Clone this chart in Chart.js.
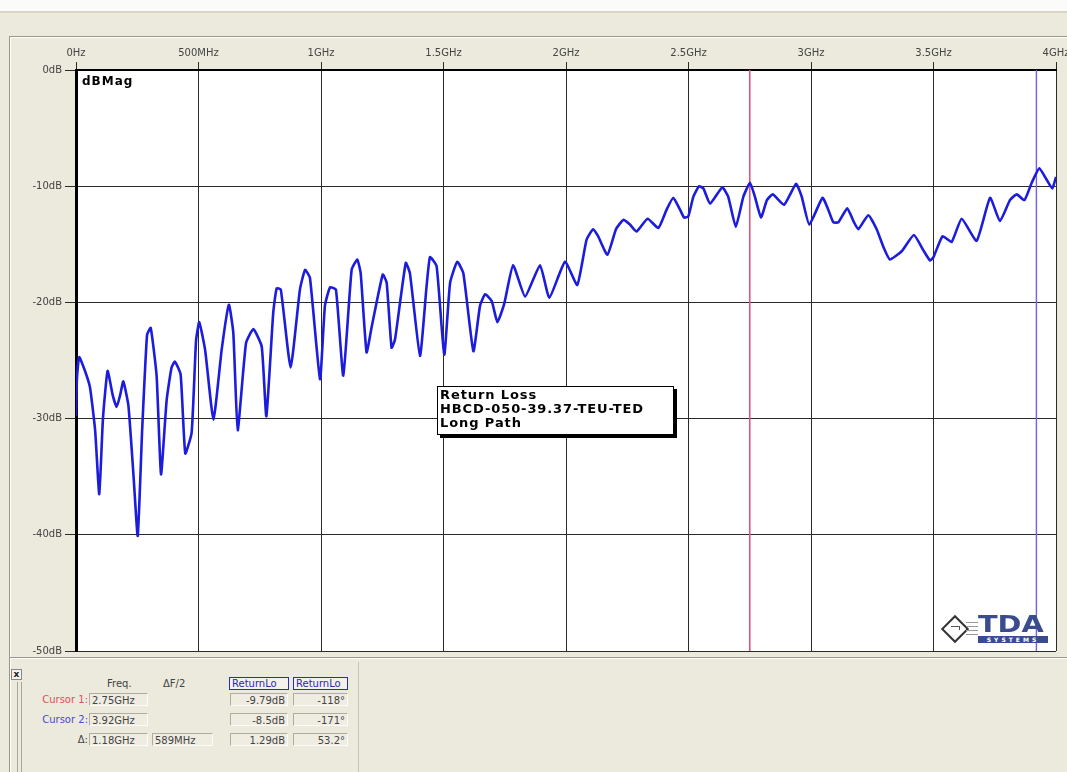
<!DOCTYPE html>
<html>
<head>
<meta charset="utf-8">
<script src="https://cdn.jsdelivr.net/npm/chart.js@4.4.1/dist/chart.umd.min.js"></script>
<style>
  body { margin: 0; width: 1067px; height: 772px; overflow: hidden; position: relative; background: #ece9dd; font-family: "DejaVu Sans", sans-serif; }
  .abs { position: absolute; }
  #chart { position: absolute; left: 0; top: 0; }
  .note { left: 437px; top: 386px; width: 233px; height: 46px; background: #fff; border: 1px solid #000; box-shadow: 3px 3px 0 #000;
          font: bold 13px "DejaVu Sans", sans-serif; letter-spacing: 0.9px; line-height: 14px; padding: 1px 0 0 2px; color: #000; }
  .lbl { font-size: 10px; color: #444; white-space: nowrap; }
  .box { height: 13px; background: #efece2; border: 1px solid; border-color: #b0ad9f #fcfbf7 #fcfbf7 #b0ad9f; font-size: 10px; color: #444; line-height: 13px; padding: 0 2px; box-sizing: border-box; white-space: nowrap; }
  .hdr { height: 13px; background: #f3f1ea; border: 1px solid #2b2bb8; font-size: 10px; color: #2b2bb0; line-height: 11px; padding: 0 2px; box-sizing: border-box; white-space: nowrap; }
  .r { text-align: right; }
</style>
</head>
<body>
<!-- window chrome behind the chart -->
<div class="abs" style="left:0;top:0;width:1067px;height:11px;background:#fbfbf9;"></div>
<div class="abs" style="left:0;top:11px;width:1067px;height:2px;background:#d8d5c8;"></div>
<div class="abs" style="left:9px;top:36px;width:1058px;height:1px;background:#9a978a;"></div>
<div class="abs" style="left:9px;top:37px;width:1058px;height:1px;background:#ffffff;"></div>
<div class="abs" style="left:9px;top:36px;width:1px;height:736px;background:#9a978a;"></div>
<div class="abs" style="left:10px;top:37px;width:1px;height:735px;background:#ffffff;"></div>
<div class="abs" style="left:10px;top:657px;width:1057px;height:1px;background:#9a978a;"></div>
<div class="abs" style="left:10px;top:658px;width:1057px;height:1px;background:#ffffff;"></div>
<div class="abs" style="left:358px;top:662px;width:1px;height:110px;background:#c7c4b6;"></div>

<canvas id="chart" width="1100" height="662"></canvas>

<div class="abs note">Return Loss<br>HBCD-050-39.37-TEU-TED<br>Long Path</div>

<!-- TDA logo -->
<div class="abs" style="left:945px;top:619px;width:16px;height:16px;transform:rotate(45deg);border:2px solid #333;background:#fff;"></div>
<div class="abs" style="left:951px;top:626px;width:8px;height:3px;border-top:1px solid #555;border-right:1px solid #555;"></div>
<div class="abs" style="left:966px;top:622px;width:12px;height:1px;background:#999;"></div>
<div class="abs" style="left:966px;top:626px;width:12px;height:1px;background:#999;"></div>
<div class="abs" style="left:966px;top:630px;width:12px;height:1px;background:#999;"></div>
<div class="abs" style="left:966px;top:634px;width:12px;height:1px;background:#999;"></div>
<div class="abs" style="left:978px;top:611px;font:bold 23px 'DejaVu Sans',sans-serif;color:#3b4c8e;transform:scaleX(1.25);transform-origin:left top;">TDA</div>
<div class="abs" style="left:978px;top:636px;width:70px;height:7px;background:#3b4c8e;color:#fff;font:bold 6px 'DejaVu Sans',sans-serif;letter-spacing:3px;line-height:7px;text-align:center;">SYSTEMS</div>

<!-- cursor readout panel -->
<div class="abs" style="left:11px;top:669px;width:9px;height:9px;border:1px solid #888;background:#f4f2ea;font:bold 9px 'DejaVu Sans';line-height:8px;text-align:center;color:#222;">x</div>
<div class="abs" style="left:17px;top:682px;width:1px;height:90px;background:#a9a697;"></div>
<div class="abs" style="left:21px;top:682px;width:1px;height:90px;background:#a9a697;"></div>

<div class="abs lbl" style="left:107px;top:678px;">Freq.</div>
<div class="abs lbl" style="left:163px;top:678px;">ΔF/2</div>
<div class="abs hdr" style="left:229px;top:677px;width:60px;">ReturnLo</div>
<div class="abs hdr" style="left:293px;top:677px;width:55px;">ReturnLo</div>

<div class="abs lbl r" style="left:28px;top:694px;width:60px;color:#e0505e;">Cursor 1:</div>
<div class="abs box" style="left:89px;top:693px;width:59px;">2.75GHz</div>
<div class="abs box r" style="left:230px;top:693px;width:58px;">-9.79dB</div>
<div class="abs box r" style="left:293px;top:693px;width:55px;">-118°</div>

<div class="abs lbl r" style="left:28px;top:714px;width:60px;color:#4a4ad0;">Cursor 2:</div>
<div class="abs box" style="left:89px;top:713px;width:59px;">3.92GHz</div>
<div class="abs box r" style="left:230px;top:713px;width:58px;">-8.5dB</div>
<div class="abs box r" style="left:293px;top:713px;width:55px;">-171°</div>

<div class="abs lbl r" style="left:28px;top:734px;width:60px;">Δ:</div>
<div class="abs box" style="left:89px;top:733px;width:59px;">1.18GHz</div>
<div class="abs box" style="left:152px;top:733px;width:61px;">589MHz</div>
<div class="abs box r" style="left:230px;top:733px;width:58px;">1.29dB</div>
<div class="abs box r" style="left:293px;top:733px;width:55px;">53.2°</div>

<script>
// return loss trace (GHz, dB)
const freqGHz = [
  0.000, 0.004, 0.013, 0.035, 0.057, 0.078, 0.095, 0.110, 0.129, 0.150,
  0.166, 0.180, 0.193, 0.214, 0.235, 0.252, 0.270, 0.290, 0.305, 0.329,
  0.347, 0.370, 0.390, 0.404, 0.427, 0.446, 0.472, 0.490, 0.503, 0.527,
  0.561, 0.595, 0.624, 0.642, 0.660, 0.694, 0.724, 0.758, 0.777, 0.805,
  0.819, 0.836, 0.876, 0.914, 0.935, 0.955, 0.996, 1.016, 1.037, 1.061,
  1.091, 1.125, 1.148, 1.162, 1.186, 1.207, 1.252, 1.268, 1.288, 1.302,
  1.346, 1.363, 1.404, 1.431, 1.445, 1.472, 1.503, 1.527, 1.556, 1.581,
  1.622, 1.649, 1.670, 1.697, 1.720, 1.748, 1.784, 1.833, 1.894, 1.932,
  1.996, 2.046, 2.084, 2.111, 2.131, 2.169, 2.204, 2.234, 2.261, 2.288,
  2.333, 2.377, 2.411, 2.438, 2.465, 2.482, 2.499, 2.520, 2.543, 2.561,
  2.588, 2.638, 2.662, 2.693, 2.724, 2.751, 2.771, 2.796, 2.820, 2.844,
  2.890, 2.939, 2.962, 2.993, 3.047, 3.070, 3.091, 3.112, 3.148, 3.173,
  3.193, 3.234, 3.268, 3.295, 3.322, 3.370, 3.420, 3.458, 3.486, 3.500,
  3.537, 3.574, 3.615, 3.676, 3.731, 3.771, 3.812, 3.840, 3.871, 3.901,
  3.932, 3.962, 3.985, 4.000
];
const magDb = [
  -29.8, -26.5, -24.7, -25.8, -27.3, -31.0, -36.5, -30.0, -25.9, -28.0,
  -29.0, -28.0, -26.8, -28.9, -35.0, -40.1, -31.0, -22.8, -22.2, -26.3,
  -34.8, -28.4, -25.6, -25.1, -26.2, -33.0, -31.2, -23.3, -21.7, -24.1,
  -30.1, -24.0, -20.2, -22.6, -31.0, -23.5, -22.3, -23.8, -29.8, -20.9,
  -18.8, -18.9, -25.6, -18.9, -17.2, -17.9, -26.6, -20.3, -18.7, -18.9,
  -26.3, -17.2, -16.3, -17.5, -24.3, -22.1, -17.6, -18.3, -23.9, -23.2,
  -16.6, -17.5, -24.6, -18.6, -16.1, -16.9, -24.5, -18.3, -16.5, -17.5,
  -24.2, -20.3, -19.3, -19.9, -21.7, -20.1, -16.8, -19.5, -16.8, -19.6,
  -16.5, -18.5, -14.6, -13.7, -14.3, -15.9, -13.7, -12.9, -13.3, -13.9,
  -12.8, -13.6, -12.0, -11.0, -12.0, -12.7, -12.6, -10.9, -10.0, -10.2,
  -11.5, -10.1, -10.9, -13.5, -10.9, -9.7, -10.9, -12.7, -11.2, -10.7,
  -11.6, -9.8, -10.9, -13.3, -11.0, -12.0, -13.1, -13.1, -11.9, -13.0,
  -13.7, -12.5, -13.7, -15.2, -16.3, -15.6, -14.2, -15.5, -16.4, -16.1,
  -14.3, -14.8, -12.8, -14.7, -11.0, -13.0, -11.2, -10.7, -11.2, -9.7,
  -8.45, -9.45, -10.2, -9.2
];
const xTickLabels = ['0Hz', '500MHz', '1GHz', '1.5GHz', '2GHz', '2.5GHz', '3GHz', '3.5GHz', '4GHz'];
const yTickValues = [0, -10, -20, -30, -40, -50];
const yTickLabels = ['0dB', '-10dB', '-20dB', '-30dB', '-40dB', '-50dB'];
const cursorFreqs = [2.75, 3.92];

const trace = [];
for (let i = 0; i < freqGHz.length; i++) {
  trace.push({ x: freqGHz[i], y: magDb[i] });
}

// white plot area and "dBMag" caption
const plotBg = {
  id: 'plotBg',
  beforeDraw(chart) {
    const { ctx, chartArea: a } = chart;
    ctx.save();
    ctx.fillStyle = '#ffffff';
    ctx.fillRect(a.left, a.top, a.right - a.left, a.bottom - a.top);
    ctx.restore();
  },
  afterDraw(chart) {
    const { ctx, chartArea: a } = chart;
    ctx.save();
    ctx.fillStyle = '#000';
    ctx.font = 'bold 12px "DejaVu Sans"';
    ctx.letterSpacing = '1px';
    ctx.textBaseline = 'top';
    ctx.fillText('dBMag', a.left + 6, a.top + 6);
    ctx.restore();
  }
};

const tickFont = { family: 'DejaVu Sans', size: 10 };

new Chart(document.getElementById('chart').getContext('2d'), {
  type: 'line',
  data: {
    datasets: [
      {
        data: trace,
        borderColor: '#1c1cdc',
        borderWidth: 2.6,
        pointRadius: 0,
        tension: 0.15,
        borderJoinStyle: 'round',
        order: 0,
      },
      {
        data: [{ x: cursorFreqs[0], y: 0 }, { x: cursorFreqs[0], y: -50 }],
        borderColor: '#d6587a',
        borderWidth: 1.6,
        pointRadius: 0,
        order: 1,
      },
      {
        data: [{ x: cursorFreqs[1], y: 0 }, { x: cursorFreqs[1], y: -50 }],
        borderColor: '#6f62e6',
        borderWidth: 1.4,
        pointRadius: 0,
        order: 1,
      },
    ],
  },
  options: {
    responsive: false,
    animation: false,
    layout: { padding: { left: 10, top: 37, right: 44, bottom: 11 } },
    plugins: { legend: { display: false }, tooltip: { enabled: false } },
    scales: {
      x: {
        type: 'linear',
        position: 'top',
        min: 0,
        max: 4,
        afterFit: (s) => { s.height = 33; },
        afterBuildTicks: (s) => { s.ticks = xTickLabels.map((t, i) => ({ value: i * 0.5 })); },
        ticks: {
          autoSkip: false,
          maxRotation: 0,
          padding: 3,
          color: '#444',
          font: tickFont,
          callback: (v, i) => xTickLabels[i],
        },
        grid: { color: '#2a2a2a', lineWidth: 1, tickLength: 8, tickColor: '#2a2a2a' },
        border: { color: '#000', width: 2 },
      },
      y: {
        type: 'linear',
        min: -50,
        max: 0,
        afterFit: (s) => { s.width = 66; },
        afterBuildTicks: (s) => { s.ticks = yTickValues.map((v) => ({ value: v })); },
        ticks: {
          autoSkip: false,
          padding: 3,
          color: '#444',
          font: tickFont,
          callback: (v) => yTickLabels[yTickValues.indexOf(v)],
        },
        grid: { color: '#2a2a2a', lineWidth: 1, tickLength: 11, tickColor: '#2a2a2a' },
        border: { color: '#000', width: 3 },
      },
    },
  },
  plugins: [plotBg],
});
</script>
</body>
</html>
